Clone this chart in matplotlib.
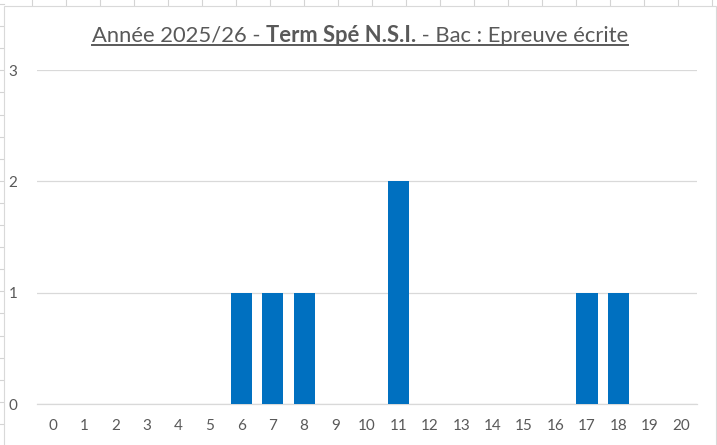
import numpy as np
import matplotlib
matplotlib.use("Agg")
import matplotlib.pyplot as plt
from matplotlib.lines import Line2D

# Données
notes = list(range(0, 21))
effectifs = [0, 0, 0, 0, 0, 0, 1, 1, 1, 0, 0, 2, 0, 0, 0, 0, 0, 1, 1, 0, 0]
titre_parties = [("Année 2025/26 - ", "normal"),
                 ("Term Spé N.S.I.", "bold"),
                 (" - Bac : Epreuve écrite", "normal")]

W, H = 717, 445
gris_texte = "#595959"
plt.rcParams['font.family'] = ['Lato', 'DejaVu Sans']

fig = plt.figure(figsize=(W / 100, H / 100), dpi=100)
fig.patch.set_facecolor("white")

# grille de la feuille Excel derrière le graphique
for x in range(32, W, 34):
    fig.add_artist(Line2D([x / W, x / W], [1 - 0 / H, 1 - 6 / H], color="#d4d4d4", lw=0.8, zorder=-2))
for y in np.arange(4, H, 22.1):
    fig.add_artist(Line2D([0, 4 / W], [1 - y / H, 1 - y / H], color="#d4d4d4", lw=0.8, zorder=-2))
# cadre du graphique
fig.add_artist(plt.Rectangle((4 / W, -0.1), (716 - 4) / W, 1.1 - 6 / H, transform=fig.transFigure,
                             facecolor="white", edgecolor="#d9d9d9", lw=0.8, zorder=-1))

ax = fig.add_axes([37 / W, 41 / H, 660 / W, 334 / H])
ax.set_facecolor("none")
ax.bar(notes, effectifs, width=0.67, color="#0070C0", zorder=3)
ax.set_xlim(-0.5, 20.5)
ax.set_ylim(0, 3)
ax.set_xticks(notes)
ax.set_yticks([0, 1, 2, 3])
ax.grid(axis="y", color="#d9d9d9", lw=0.9, zorder=0)
for s in ["top", "right", "left"]:
    ax.spines[s].set_visible(False)
ax.spines["bottom"].set_color("#d9d9d9")
ax.spines["bottom"].set_linewidth(0.9)
ax.tick_params(axis="both", length=0, labelsize=11, labelcolor=gris_texte)
ax.tick_params(axis="x", pad=11)
ax.tick_params(axis="y", pad=14)

# titre en trois morceaux, souligné
renderer = fig.canvas.get_renderer()
textes = []
for txt, poids in titre_parties:
    t = fig.text(0, 1 - 42 / H, txt, fontsize=15.85, fontweight=poids, color=gris_texte,
                 va="baseline", ha="left")
    textes.append(t)
largeurs = [t.get_window_extent(renderer).width for t in textes]
x0 = 360 - sum(largeurs) / 2
for t, w in zip(textes, largeurs):
    t.set_x(x0 / W)
    x0 += w
x_deb = 360 - sum(largeurs) / 2
fig.add_artist(Line2D([x_deb / W, (x_deb + sum(largeurs)) / W], [1 - 45 / H, 1 - 45 / H],
                      color=gris_texte, lw=1.4))

fig.savefig("out.png", dpi=100)
